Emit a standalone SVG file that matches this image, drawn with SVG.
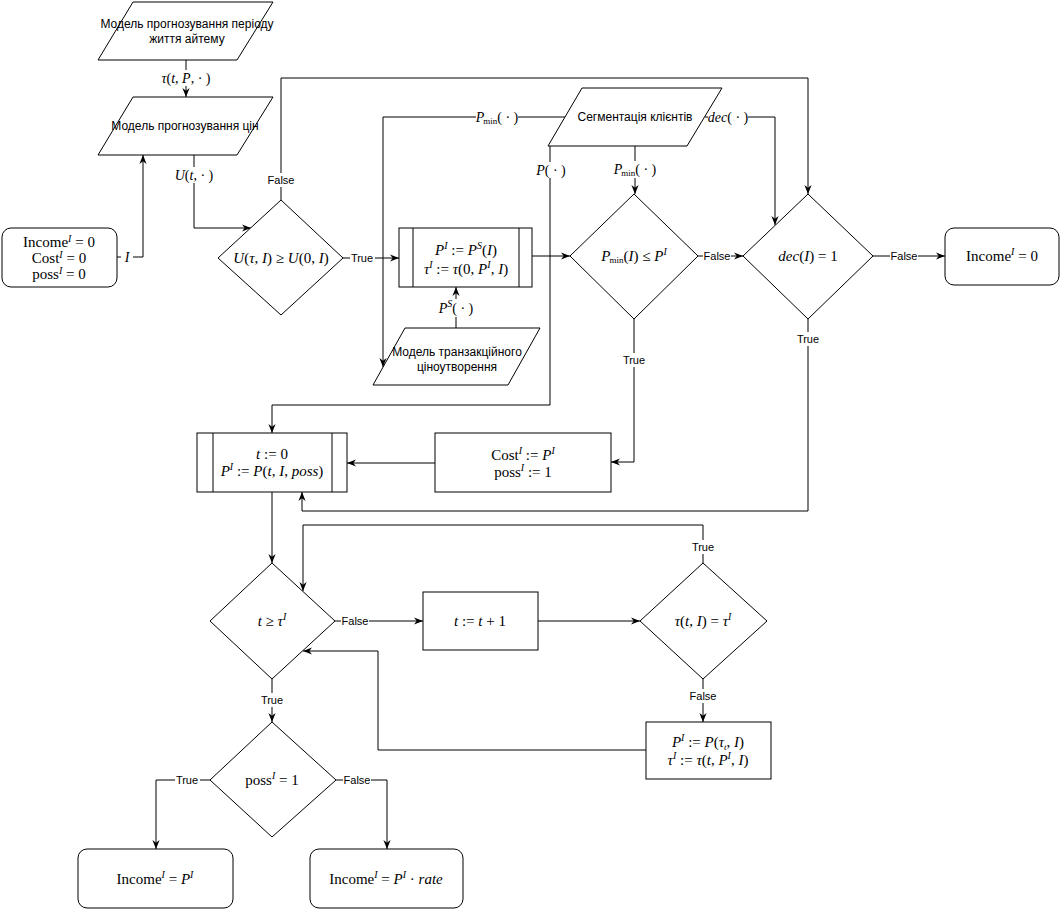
<svg xmlns="http://www.w3.org/2000/svg" width="1060" height="910" viewBox="0 0 1060 910">
  <style>
    .n { fill: #fff; stroke: #000; stroke-width: 1; }
    .e { fill: none; stroke: #000; stroke-width: 1; }
    .s { font-family: "Liberation Sans", Arial, sans-serif; font-size: 12px; text-anchor: middle; fill: #000; }
    .m { font-family: "Liberation Serif", "Times New Roman", serif; font-size: 15px; text-anchor: middle; fill: #000; }
    .ml { font-family: "Liberation Serif", "Times New Roman", serif; font-size: 14px; text-anchor: middle; fill: #000; }
    .i { font-style: italic; }
    .sup { font-size: 10px; font-style: italic; }
    .sub { font-size: 9px; }
    .l { font-family: "Liberation Sans", Arial, sans-serif; font-size: 11px; text-anchor: middle; fill: #000; }
    .bg { fill: #fff; stroke: none; }
  </style>
  <defs>
    <marker id="arr" viewBox="0 0 10 10" refX="10" refY="5" markerWidth="9" markerHeight="9" markerUnits="userSpaceOnUse" orient="auto">
      <path d="M0,1 L10,5 L0,9 L3,5 Z" fill="#000"/>
    </marker>
  </defs>
  <rect width="1060" height="910" fill="#fff"/>

  <!-- connectors -->
  <g id="connectors">
    <path class="e" d="M186,60 V97" marker-end="url(#arr)"/>
    <path class="e" d="M117,257 H143 V155" marker-end="url(#arr)"/>
    <path class="e" d="M194,155 V228 H251" marker-end="url(#arr)"/>
    <path class="e" d="M281,200 V78 H808 V194" marker-end="url(#arr)"/>
    <path class="e" d="M343,258 H399" marker-end="url(#arr)"/>
    <path class="e" d="M532,256 H570" marker-end="url(#arr)"/>
    <path class="e" d="M565,117 H383 V367" marker-end="url(#arr)"/>
    <path class="e" d="M550,146 V405 H272 V433" marker-end="url(#arr)"/>
    <path class="e" d="M635,146 V194" marker-end="url(#arr)"/>
    <path class="e" d="M705,117 H775 V225" marker-end="url(#arr)"/>
    <path class="e" d="M456,328 V287" marker-end="url(#arr)"/>
    <path class="e" d="M698,256 H743" marker-end="url(#arr)"/>
    <path class="e" d="M634,319 V462 H611" marker-end="url(#arr)"/>
    <path class="e" d="M873,256 H945" marker-end="url(#arr)"/>
    <path class="e" d="M808,319 V511 H302 V492" marker-end="url(#arr)"/>
    <path class="e" d="M435,463 H347" marker-end="url(#arr)"/>
    <path class="e" d="M272,492 V563" marker-end="url(#arr)"/>
    <path class="e" d="M335,621 H423" marker-end="url(#arr)"/>
    <path class="e" d="M538,621 H640" marker-end="url(#arr)"/>
    <path class="e" d="M703,563 V525 H303 V591" marker-end="url(#arr)"/>
    <path class="e" d="M703,679 V722" marker-end="url(#arr)"/>
    <path class="e" d="M646,750 H378 V651 H303" marker-end="url(#arr)"/>
    <path class="e" d="M272,679 V722" marker-end="url(#arr)"/>
    <path class="e" d="M210,780 H156 V849" marker-end="url(#arr)"/>
    <path class="e" d="M336,780 H387 V849" marker-end="url(#arr)"/>

    <!-- connector labels -->
    <rect class="bg" x="160" y="70" width="52" height="16"/>
    <text class="ml" x="186" y="83"><tspan class="i">τ</tspan>(<tspan class="i">t</tspan>, <tspan class="i">P</tspan>,  · )</text>

    <rect class="bg" x="121" y="250" width="12" height="15"/>
    <text class="ml i" x="127" y="262">I</text>

    <rect class="bg" x="172" y="167" width="44" height="16"/>
    <text class="ml" x="194" y="180"><tspan class="i">U</tspan>(<tspan class="i">t</tspan>,  · )</text>

    <rect class="bg" x="267" y="173" width="28" height="14"/>
    <text class="l" x="281" y="184">False</text>

    <rect class="bg" x="350" y="251" width="25" height="14"/>
    <text class="l" x="362" y="262">True</text>

    <rect class="bg" x="476" y="109" width="42" height="17"/>
    <text class="ml" x="497" y="122"><tspan class="i">P</tspan><tspan class="sub" dx="-1" dy="2">min</tspan><tspan dy="-2">( · )</tspan></text>

    <rect class="bg" x="536" y="162" width="30" height="16"/>
    <text class="ml" x="551" y="175"><tspan class="i">P</tspan>( · )</text>

    <rect class="bg" x="614" y="161" width="42" height="17"/>
    <text class="ml" x="635" y="174"><tspan class="i">P</tspan><tspan class="sub" dx="-1" dy="2">min</tspan><tspan dy="-2">( · )</tspan></text>

    <rect class="bg" x="708" y="109" width="40" height="16"/>
    <text class="ml" x="728" y="122"><tspan class="i">dec</tspan>( · )</text>

    <rect class="bg" x="437" y="299" width="38" height="18"/>
    <text class="ml" x="456" y="313"><tspan class="i">P</tspan><tspan class="sup" dy="-6">S</tspan><tspan dy="6">( · )</tspan></text>

    <rect class="bg" x="703" y="249" width="28" height="14"/>
    <text class="l" x="717" y="260">False</text>

    <rect class="bg" x="622" y="353" width="25" height="14"/>
    <text class="l" x="634" y="364">True</text>

    <rect class="bg" x="890" y="249" width="28" height="14"/>
    <text class="l" x="904" y="260">False</text>

    <rect class="bg" x="796" y="332" width="25" height="14"/>
    <text class="l" x="808" y="343">True</text>

    <rect class="bg" x="341" y="614" width="28" height="14"/>
    <text class="l" x="355" y="625">False</text>

    <rect class="bg" x="691" y="540" width="25" height="14"/>
    <text class="l" x="703" y="551">True</text>

    <rect class="bg" x="689" y="689" width="28" height="14"/>
    <text class="l" x="703" y="700">False</text>

    <rect class="bg" x="260" y="693" width="25" height="14"/>
    <text class="l" x="272" y="704">True</text>

    <rect class="bg" x="175" y="773" width="25" height="14"/>
    <text class="l" x="187" y="784">True</text>

    <rect class="bg" x="343" y="773" width="28" height="14"/>
    <text class="l" x="357" y="784">False</text>
  </g>

  <!-- life-period model -->
  <g id="life-model">
    <polygon class="n" points="133,2 273,2 237,60 98,60"/>
    <text class="s" x="187" y="28">Модель прогнозування періоду</text>
    <text class="s" x="187" y="43">життя айтему</text>
  </g>

  <!-- price model -->
  <g id="price-model">
    <polygon class="n" points="133,97 273,97 237,155 98,155"/>
    <text class="s" x="185" y="130">Модель прогнозування цін</text>
  </g>

  <!-- initial values -->
  <g id="init">
    <rect class="n" x="2" y="228" width="115" height="59" rx="9"/>
    <text class="m" x="59" y="247">Income<tspan class="sup" dy="-5">I</tspan><tspan dy="5">&#160;=&#160;0</tspan></text>
    <text class="m" x="59" y="263">Cost<tspan class="sup" dy="-5">I</tspan><tspan dy="5">&#160;=&#160;0</tspan></text>
    <text class="m" x="59" y="279">poss<tspan class="sup" dy="-5">I</tspan><tspan dy="5">&#160;=&#160;0</tspan></text>
  </g>

  <!-- utility check -->
  <g id="utility-check">
    <polygon class="n" points="281,200 343,258 281,315 218,258"/>
    <text class="m" x="281" y="263"><tspan class="i">U</tspan>(<tspan class="i">τ</tspan>, <tspan class="i">I</tspan>)&#160;≥&#160;<tspan class="i">U</tspan>(0, <tspan class="i">I</tspan>)</text>
  </g>

  <!-- price assignment -->
  <g id="price-assign">
    <rect class="n" x="399" y="228" width="133" height="59"/>
    <line class="e" x1="413" y1="228" x2="413" y2="287"/>
    <line class="e" x1="519" y1="228" x2="519" y2="287"/>
    <text class="m" x="466" y="255"><tspan class="i">P</tspan><tspan class="sup" dy="-6">I</tspan><tspan dy="6">&#160;:=&#160;</tspan><tspan class="i">P</tspan><tspan class="sup" dy="-6">S</tspan><tspan dy="6">(</tspan><tspan class="i">I</tspan>)</text>
    <text class="m" x="466" y="274"><tspan class="i">τ</tspan><tspan class="sup" dy="-6">I</tspan><tspan dy="6">&#160;:=&#160;</tspan><tspan class="i">τ</tspan>(0, <tspan class="i">P</tspan><tspan class="sup" dy="-6">I</tspan><tspan dy="6">, </tspan><tspan class="i">I</tspan>)</text>
  </g>

  <!-- transactional pricing model -->
  <g id="transaction-model">
    <polygon class="n" points="405,328 540,328 508,385 373,385"/>
    <text class="s" x="457" y="356">Модель транзакційного</text>
    <text class="s" x="457" y="371">ціноутворення</text>
  </g>

  <!-- client segmentation -->
  <g id="segmentation">
    <polygon class="n" points="582,88 722,88 687,146 548,146"/>
    <text class="s" x="635" y="121">Сегментація клієнтів</text>
  </g>

  <!-- minimum price check -->
  <g id="min-price-check">
    <polygon class="n" points="634,194 698,256 634,319 570,256"/>
    <text class="m" x="634" y="261"><tspan class="i">P</tspan><tspan class="sub" dx="-1" dy="2">min</tspan><tspan dy="-2">(</tspan><tspan class="i">I</tspan>)&#160;≤&#160;<tspan class="i">P</tspan><tspan class="sup" dy="-6">I</tspan></text>
  </g>

  <!-- decision check -->
  <g id="dec-check">
    <polygon class="n" points="808,194 873,256 808,319 743,256"/>
    <text class="m" x="808" y="261"><tspan class="i">dec</tspan>(<tspan class="i">I</tspan>)&#160;=&#160;1</text>
  </g>

  <!-- zero income -->
  <g id="income-zero">
    <rect class="n" x="945" y="228" width="114" height="57" rx="9"/>
    <text class="m" x="1002" y="261">Income<tspan class="sup" dy="-6">I</tspan><tspan dy="6">&#160;=&#160;0</tspan></text>
  </g>

  <!-- time init -->
  <g id="time-init">
    <rect class="n" x="197" y="433" width="150" height="59"/>
    <line class="e" x1="213" y1="433" x2="213" y2="492"/>
    <line class="e" x1="332" y1="433" x2="332" y2="492"/>
    <text class="m" x="272" y="459"><tspan class="i">t</tspan> := 0</text>
    <text class="m" x="272" y="476"><tspan class="i">P</tspan><tspan class="sup" dy="-6">I</tspan><tspan dy="6"> := </tspan><tspan class="i">P</tspan>(<tspan class="i">t</tspan>, <tspan class="i">I</tspan>, <tspan class="i">poss</tspan>)</text>
  </g>

  <!-- cost assignment -->
  <g id="cost-assign">
    <rect class="n" x="435" y="433" width="176" height="59"/>
    <text class="m" x="523" y="460">Cost<tspan class="sup" dy="-6">I</tspan><tspan dy="6"> := </tspan><tspan class="i">P</tspan><tspan class="sup" dy="-6">I</tspan></text>
    <text class="m" x="523" y="477">poss<tspan class="sup" dy="-6">I</tspan><tspan dy="6"> := 1</tspan></text>
  </g>

  <!-- horizon check -->
  <g id="horizon-check">
    <polygon class="n" points="272,563 335,621 272,679 210,621"/>
    <text class="m" x="272" y="626"><tspan class="i">t</tspan>&#160;≥&#160;<tspan class="i">τ</tspan><tspan class="sup" dy="-6">I</tspan></text>
  </g>

  <!-- time step -->
  <g id="time-step">
    <rect class="n" x="423" y="592" width="115" height="58"/>
    <text class="m" x="480" y="626"><tspan class="i">t</tspan> := <tspan class="i">t</tspan> + 1</text>
  </g>

  <!-- period check -->
  <g id="period-check">
    <polygon class="n" points="703,563 767,621 703,679 640,621"/>
    <text class="m" x="703" y="626"><tspan class="i">τ</tspan>(<tspan class="i">t</tspan>, <tspan class="i">I</tspan>)&#160;=&#160;<tspan class="i">τ</tspan><tspan class="sup" dy="-6">I</tspan></text>
  </g>

  <!-- price update -->
  <g id="price-update">
    <rect class="n" x="646" y="722" width="125" height="57"/>
    <text class="m" x="708" y="747"><tspan class="i">P</tspan><tspan class="sup" dy="-6">I</tspan><tspan dy="6">&#160;:=&#160;</tspan><tspan class="i">P</tspan>(<tspan class="i">τ</tspan><tspan class="sub i" dy="3">t</tspan><tspan dy="-3">, </tspan><tspan class="i">I</tspan>)</text>
    <text class="m" x="708" y="765"><tspan class="i">τ</tspan><tspan class="sup" dy="-6">I</tspan><tspan dy="6">&#160;:=&#160;</tspan><tspan class="i">τ</tspan>(<tspan class="i">t</tspan>, <tspan class="i">P</tspan><tspan class="sup" dy="-6">I</tspan><tspan dy="6">, </tspan><tspan class="i">I</tspan>)</text>
  </g>

  <!-- possession check -->
  <g id="poss-check">
    <polygon class="n" points="272,722 336,780 272,837 210,780"/>
    <text class="m" x="272" y="785">poss<tspan class="sup" dy="-6">I</tspan><tspan dy="6">&#160;=&#160;1</tspan></text>
  </g>

  <!-- income outcomes -->
  <g id="income-full">
    <rect class="n" x="78" y="849" width="155" height="59" rx="9"/>
    <text class="m" x="155" y="884">Income<tspan class="sup" dy="-6">I</tspan><tspan dy="6">&#160;=&#160;</tspan><tspan class="i">P</tspan><tspan class="sup" dy="-6">I</tspan></text>
  </g>
  <g id="income-rate">
    <rect class="n" x="310" y="849" width="153" height="59" rx="9"/>
    <text class="m" x="386" y="884">Income<tspan class="sup" dy="-6">I</tspan><tspan dy="6">&#160;=&#160;</tspan><tspan class="i">P</tspan><tspan class="sup" dy="-6">I</tspan><tspan dy="6">&#160;·&#160;</tspan><tspan class="i">rate</tspan></text>
  </g>
</svg>
